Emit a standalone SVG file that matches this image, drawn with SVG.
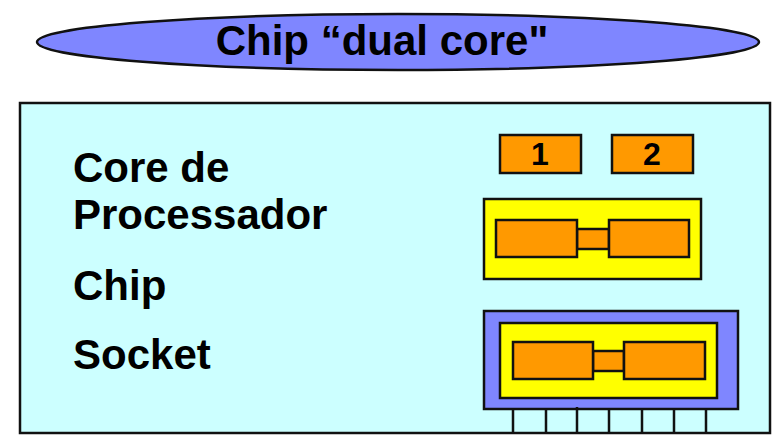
<svg xmlns="http://www.w3.org/2000/svg" width="772" height="435" viewBox="0 0 772 435">
<style>
.s{stroke:#111;stroke-width:2.5}
.o{fill:#FF9900}
.y{fill:#FFFF00}
.b{fill:#7F86FF}
.t{font-family:"Liberation Sans",Arial,sans-serif;font-weight:bold;fill:#000}
.pin{stroke:#111;stroke-width:2.5}
</style>
<rect width="772" height="435" fill="#fff"/>
<g id="title">
<ellipse cx="398" cy="42" rx="361" ry="28" class="b s"/>
<text x="382" y="55" text-anchor="middle" class="t" font-size="42">Chip “dual core"</text>
</g>
<g id="panel">
<rect x="20" y="103" width="750" height="330" fill="#CCFFFF" class="s"/>
</g>
<g id="labels">
<text x="73" y="182" class="t" font-size="42">Core de</text>
<text x="73" y="229" class="t" font-size="42">Processador</text>
<text x="73" y="300" class="t" font-size="42">Chip</text>
<text x="73" y="369" class="t" font-size="42">Socket</text>
</g>
<g id="core1">
<rect x="500" y="135" width="81" height="38" class="o s"/>
<text x="540" y="165" text-anchor="middle" class="t" font-size="32">1</text>
</g>
<g id="core2">
<rect x="612" y="135" width="81" height="38" class="o s"/>
<text x="652" y="165" text-anchor="middle" class="t" font-size="32">2</text>
</g>
<g id="chip">
<rect x="484" y="199" width="217" height="80" class="y s"/>
<rect x="577" y="229" width="32" height="20" class="o s"/>
<rect x="496" y="220" width="81" height="37" class="o s"/>
<rect x="609" y="220" width="80" height="37" class="o s"/>
</g>
<g id="socket">
<rect x="484" y="311" width="254" height="98" class="b s"/>
<rect x="500" y="323" width="217" height="75" class="y s"/>
<rect x="593" y="351" width="31" height="20" class="o s"/>
<rect x="513" y="342" width="80" height="37" class="o s"/>
<rect x="624" y="342" width="81" height="37" class="o s"/>
</g>
<g id="connectors">
<path class="pin" d="M513 409V433M546 409V433M577 407V432M609 409V433M642 409V433M674 409V433M706 409V433"/>
</g>
</svg>
